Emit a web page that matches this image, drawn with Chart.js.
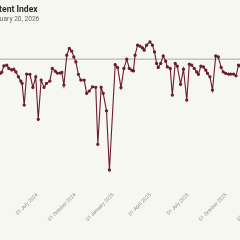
<!DOCTYPE html>
<html>
<head>
<meta charset="utf-8">
<script src="https://cdn.jsdelivr.net/npm/chart.js@4.4.1/dist/chart.umd.min.js"></script>
<style>
  html, body { margin: 0; padding: 0; background: #f7f7f2; overflow: hidden; width: 240px; height: 240px; }
  #wrap { position: absolute; left: -41px; top: 0; width: 330px; height: 240px; }
</style>
</head>
<body>
<div id="wrap"><canvas id="grafico" width="330" height="240"></canvas></div>
<script>
// dados
const datas = [
  '2024-03-27','2024-04-03','2024-04-07','2024-04-12','2024-04-19','2024-04-24','2024-05-01','2024-05-06',
  '2024-05-11','2024-05-17','2024-05-23','2024-05-26','2024-05-31','2024-06-06','2024-06-14','2024-06-21',
  '2024-06-28','2024-07-04','2024-07-11','2024-07-18','2024-07-24','2024-08-01','2024-08-07','2024-08-14',
  '2024-08-19','2024-08-26','2024-08-30','2024-09-04','2024-09-11','2024-09-17','2024-09-23','2024-09-28',
  '2024-10-03','2024-10-09','2024-10-15','2024-10-23','2024-10-29','2024-11-04','2024-11-12','2024-11-20',
  '2024-11-25','2024-12-03','2024-12-08','2024-12-16','2024-12-23','2025-01-06','2025-01-12','2025-01-20',
  '2025-01-27','2025-02-03','2025-02-09','2025-02-15','2025-02-19','2025-02-23','2025-03-01','2025-03-07',
  '2025-03-13','2025-03-17','2025-03-23','2025-03-31','2025-04-06','2025-04-11','2025-04-16','2025-04-20',
  '2025-04-26','2025-05-02','2025-05-08','2025-05-12','2025-05-19','2025-05-24','2025-05-31','2025-06-05',
  '2025-06-13','2025-06-20','2025-06-28','2025-07-04','2025-07-10','2025-07-16','2025-07-22','2025-07-26',
  '2025-08-01','2025-08-07','2025-08-13','2025-08-17','2025-08-23','2025-08-29','2025-09-06','2025-09-12',
  '2025-09-19','2025-09-24','2025-09-30','2025-10-07','2025-10-12','2025-10-19','2025-10-25','2025-10-31',
  '2025-11-04','2025-11-10'
];
const valores = [
  94.0, 94.3, 94.8, 97.3, 97.6, 96.3, 95.7, 96.0,
  94.9, 92.9, 91.2, 90.3, 81.6, 94.0, 93.9, 88.7,
  92.9, 75.9, 91.6, 88.7, 90.3, 91.2, 96.3, 95.2,
  94.4, 94.4, 94.7, 89.6, 101.6, 104.3, 103.2, 100.9,
  98.9, 93.9, 91.6, 91.6, 86.3, 87.2, 88.9, 88.7,
  65.9, 88.7, 86.3, 79.3, 55.6, 97.8, 96.6, 88.6,
  96.3, 100.0, 96.3, 95.6, 95.3, 101.6, 105.6, 105.2,
  104.5, 103.6, 105.6, 106.9, 105.6, 102.9, 98.3, 96.7,
  98.3, 101.3, 99.2, 96.9, 96.3, 85.6, 98.3, 97.2,
  89.9, 96.0, 83.6, 98.0, 97.6, 96.3, 94.9, 93.9,
  97.2, 96.9, 95.6, 94.3, 92.9, 87.6, 101.3, 100.9,
  96.7, 94.9, 94.3, 94.0, 94.0, 94.0, 93.3, 97.6,
  97.3, 97.2
];
const linhaBase = 100;
const tickDatas = ['2024-04-01','2024-07-01','2024-10-01','2025-01-01','2025-04-01','2025-07-01','2025-10-01','2026-01-01'];
const tickRotulos = ['01 April 2024','01 July 2024','01 October 2024','01 January 2025','01 April 2025','01 July 2025','01 October 2025','01 January 2026'];

const inicio = '2024-03-07', fim = '2026-02-01';

function dia(s) {
  const [a, m, d] = s.split('-').map(Number);
  return Math.round((Date.UTC(a, m - 1, d) - Date.UTC(2024, 6, 1)) / 86400000);
}

const pontos = datas.map((d, i) => ({ x: dia(d), y: valores[i] }));
const xMin = dia(inicio), xMax = dia(fim);

new Chart(document.getElementById('grafico').getContext('2d'), {
  type: 'line',
  data: {
    datasets: [
      {
        data: pontos,
        borderColor: '#6b1d2c',
        backgroundColor: '#6b1d2c',
        borderWidth: 1.1,
        pointRadius: 1.1,
        pointHoverRadius: 1.1,
        tension: 0,
        order: 1
      },
      {
        data: [{ x: xMin, y: linhaBase }, { x: xMax, y: linhaBase }],
        borderColor: '#a8a8a3',
        borderWidth: 1,
        pointRadius: 0,
        order: 2
      }
    ]
  },
  options: {
    responsive: false,
    animation: false,
    layout: { padding: { left: 30, right: 12, top: 2, bottom: 0 } },
    plugins: {
      legend: { display: false },
      tooltip: { enabled: false },
      title: {
        display: true, text: 'Patent Index', align: 'start',
        color: '#2b2b2b', font: { family: 'Roboto', size: 8.6, weight: 'bold', lineHeight: 1.25 },
        padding: { top: 2, bottom: 1 }
      },
      subtitle: {
        display: true, text: 'January 20, 2026', align: 'start',
        color: '#666', font: { family: 'Roboto', size: 6.6, lineHeight: 1.2 },
        padding: { top: 0, bottom: 8 }
      }
    },
    scales: {
      x: {
        type: 'linear', min: xMin, max: xMax,
        grid: { display: false, drawTicks: false },
        border: { display: false },
        afterBuildTicks: s => { s.ticks = tickDatas.map(d => ({ value: dia(d) })); },
        afterFit: s => { s.height = 52; },
        ticks: {
          autoSkip: false, minRotation: 45, maxRotation: 45, padding: 4,
          color: '#8a8a8a', font: { family: 'Roboto', size: 5 },
          callback: v => tickRotulos[tickDatas.findIndex(d => dia(d) === v)]
        }
      },
      y: {
        display: false, min: 48.4, max: 111
      }
    }
  }
});
</script>
</body>
</html>
